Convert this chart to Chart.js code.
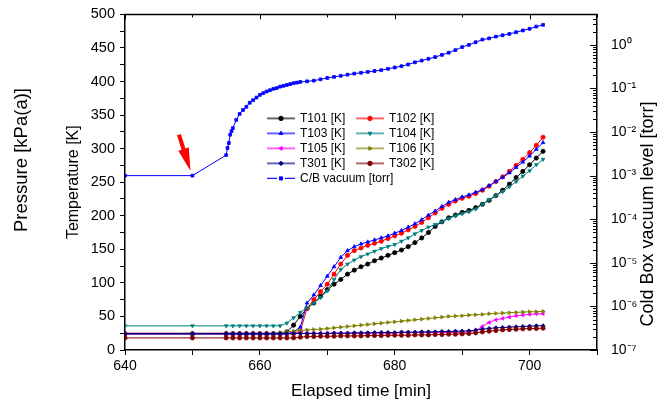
<!DOCTYPE html>
<html>
<head>
<meta charset="utf-8">
<script src="https://cdn.jsdelivr.net/npm/chart.js@4.4.0/dist/chart.umd.min.js"></script>
<style>
  html, body { margin: 0; padding: 0; background: #fff; }
</style>
</head>
<body>
<canvas id="myChart" width="664" height="405"></canvas>
<script>
// elapsed time [min] of the temperature channels
const timeT = [640, 650, 655, 656, 657, 658, 659, 660, 661, 662, 663, 664, 665, 666, 667, 668, 669, 670,
  671, 672, 673, 674, 675, 676, 677, 678, 679, 680, 681, 682, 683, 684, 685, 686, 687, 688, 689, 690,
  691, 692, 693, 694, 695, 696, 697, 698, 699, 700, 701, 702];

// temperatures [K]
const t101 = [24, 24, 24, 24, 24, 24, 24, 24, 24, 24, 24.5, 27, 37, 50, 62, 70, 80, 90, 98, 105, 113, 119,
  124, 128, 133, 137, 141, 145, 149, 154, 160, 167, 175, 184, 191, 197, 201, 205, 208, 212, 217, 223, 230,
  238, 247, 257, 266, 276, 286, 296];
const t102 = [24, 24, 24, 24, 24, 24, 24, 24, 24, 24, 24, 24, 24, 28, 62, 75, 87, 98, 113, 128, 141, 148,
  152, 156, 159, 162, 166, 170, 174, 179, 184, 190, 197, 204, 211, 217, 222, 226, 229, 233, 238, 244, 251,
  258, 266, 275, 284, 294, 305, 317];
const t103 = [24, 24, 24, 24, 24, 24, 24, 24, 24, 24, 24, 24, 27, 34, 70, 82, 96, 110, 124, 138, 148, 154,
  158, 161, 164, 167, 170, 174, 178, 183, 188, 194, 201, 207, 214, 220, 224, 228, 231, 235, 239, 245, 251,
  257, 264, 272, 280, 289, 299, 309];
const t104 = [36, 36, 36, 36, 36, 36, 36, 36, 36, 36, 36, 40, 48, 56, 63, 70, 78, 88, 105, 120, 128, 134,
  139, 143, 147, 151, 154, 157, 162, 167, 173, 178, 183, 187, 191, 196, 200, 203, 206, 210, 217, 224, 230,
  236, 243, 251, 259, 267, 276, 284];
const t105 = [25, 25, 25, 25, 25, 25, 25, 25, 25, 25, 25, 25, 25, 25, 25, 25, 25, 25, 25, 25, 25, 25, 25,
  25, 25, 25, 25, 25, 26, 26, 26, 26, 26, 26, 26, 26, 26, 26, 27, 29, 35, 41, 45, 47, 49, 51, 52, 53, 54, 54];
const t106 = [25, 25, 25, 25, 25, 25, 25, 25, 25, 25, 26, 27, 28, 29, 30, 30.5, 31, 32, 33, 34, 35, 36, 37,
  38, 39, 40, 41, 42, 43, 44, 45, 46, 47, 48, 49, 50, 50.5, 51, 52, 52.5, 53, 54, 54.5, 55, 55.5, 56, 56.5,
  57, 57, 57.5];
const t301 = [24.5, 24.5, 24.5, 24.5, 24.5, 24.5, 24.5, 24.5, 24.5, 24.5, 24.5, 24.5, 24.5, 24.5, 24.5,
  24.5, 24.5, 24.5, 25, 25, 25, 25.5, 25.5, 25.5, 26, 26, 26, 26, 26.5, 26.5, 26.5, 27, 27, 27, 27.5, 27.5,
  28, 28, 28.5, 29.5, 31, 32, 33, 33.5, 34, 34.5, 35, 35.5, 36, 36];
const t302 = [18, 18, 18, 18, 18, 18, 18, 18, 18, 18, 18, 18, 18, 19, 20, 20, 20.5, 20.5, 20.5, 21, 21, 21,
  21, 21.5, 21.5, 21.5, 22, 22, 22, 22, 22.5, 22.5, 22.5, 23, 23, 23.5, 23.5, 24, 24.5, 25.5, 27, 28, 29,
  30, 30.5, 31, 31.5, 32, 32, 32.5];

// cold box vacuum [torr]
const timeV = [640, 650, 655, 655.2, 655.4, 655.6, 655.8, 656, 656.5, 657, 657.5, 658, 658.5, 659, 659.5,
  660, 660.5, 661, 661.5, 662, 662.5, 663, 663.5, 664, 664.5, 665, 665.5, 666, 667, 668, 669, 670, 671,
  672, 673, 674, 675, 676, 677, 678, 679, 680, 681, 682, 683, 684, 685, 686, 687, 688, 689, 690, 691, 692,
  693, 694, 695, 696, 697, 698, 699, 700, 701, 702];
const vacuum = [1.0e-3, 1.0e-3, 2.95e-3, 4.3e-3, 5.6e-3, 8.7e-3, 0.0105, 0.0123, 0.019, 0.026, 0.032,
  0.038, 0.047, 0.054, 0.062, 0.071, 0.078, 0.085, 0.091, 0.098, 0.102, 0.110, 0.115, 0.120, 0.126, 0.132,
  0.136, 0.141, 0.146, 0.151, 0.162, 0.174, 0.184, 0.195, 0.207, 0.219, 0.229, 0.240, 0.251, 0.263, 0.282,
  0.302, 0.324, 0.355, 0.398, 0.437, 0.479, 0.525, 0.589, 0.661, 0.759, 0.891, 1.0, 1.15, 1.32, 1.41, 1.55,
  1.66, 1.78, 1.95, 2.14, 2.34, 2.63, 2.88];

// tick labels
const timeTickLabels = [640, 660, 680, 700];
const tempTickLabels = [0, 50, 100, 150, 200, 250, 300, 350, 400, 450, 500];
const vacDecades = [-7, -6, -5, -4, -3, -2, -1, 0];

// point the arrow marks
const arrowAt = [650, 1.0e-3];

const FONT = "'Liberation Sans', Arial, Helvetica, sans-serif";
Chart.defaults.font.family = FONT;
Chart.defaults.color = '#000';

const pair = (xs, ys) => xs.map((x, i) => ({ x: x, y: ys[i] }));

const tempSeries = [
  { label: 'T101 [K]', values: t101, color: '#000000', style: 'circle', rot: 0 },
  { label: 'T102 [K]', values: t102, color: '#ff0000', style: 'circle', rot: 0 },
  { label: 'T103 [K]', values: t103, color: '#0000ff', style: 'triangle', rot: 0 },
  { label: 'T104 [K]', values: t104, color: '#008080', style: 'triangle', rot: 180 },
  { label: 'T105 [K]', values: t105, color: '#ff00ff', style: 'triangle', rot: 270 },
  { label: 'T106 [K]', values: t106, color: '#808000', style: 'triangle', rot: 90 },
  { label: 'T301 [K]', values: t301, color: '#000080', style: 'rectRot', rot: 0 },
  { label: 'T302 [K]', values: t302, color: '#800000', style: 'circle', rot: 0 }
];

const datasets = tempSeries.map((s, i) => ({
  label: s.label,
  data: pair(timeT, s.values),
  yAxisID: 'y',
  borderColor: s.color,
  backgroundColor: s.color,
  pointBackgroundColor: s.color,
  pointBorderColor: s.color,
  borderWidth: 1,
  pointRadius: 2.1,
  pointBorderWidth: 0.8,
  pointStyle: s.style,
  pointRotation: s.rot,
  tension: 0,
  order: 20 - i
}));
datasets.push({
  label: 'C/B vacuum [torr]',
  data: pair(timeV, vacuum),
  yAxisID: 'yv',
  borderColor: '#0000ff',
  backgroundColor: '#0000ff',
  pointBackgroundColor: '#0000ff',
  pointBorderColor: '#0000ff',
  borderWidth: 1,
  pointRadius: 2,
  pointBorderWidth: 0.8,
  pointStyle: 'rect',
  pointRotation: 0,
  tension: 0,
  order: 1
});

const supDigits = { '-': '\u207b', '0': '\u2070', '1': '\u00b9', '2': '\u00b2', '3': '\u00b3', '4': '\u2074',
  '5': '\u2075', '6': '\u2076', '7': '\u2077', '8': '\u2078', '9': '\u2079' };
function decadeLabel(v) {
  const e = Math.log10(v);
  const n = Math.round(e);
  if (Math.abs(e - n) > 1e-6 || !vacDecades.includes(n)) return '';
  return '10' + String(n).split('').map(c => supDigits[c]).join('');
}

// frame top line, inward ticks on top and right, extra axis titles, arrow and the legend
const decorPlugin = {
  id: 'decor',
  afterDraw(chart) {
    const ctx = chart.ctx;
    const a = chart.chartArea;
    const xs = chart.scales.x;
    const yv = chart.scales.yv;
    ctx.save();
    ctx.strokeStyle = '#000';
    ctx.lineWidth = 1.5;
    ctx.beginPath();
    ctx.moveTo(a.left - 0.75, a.top);
    ctx.lineTo(a.right + 0.75, a.top);
    ctx.stroke();

    ctx.lineWidth = 1;
    for (let v = 640; v <= 710; v += 10) {
      const px = Math.round(xs.getPixelForValue(v)) + 0.5;
      ctx.beginPath();
      ctx.moveTo(px, a.top);
      ctx.lineTo(px, a.top + (v % 20 === 0 ? 5 : 3));
      ctx.stroke();
    }
    vacDecades.forEach(n => {
      for (let m = 1; m <= 9; m++) {
        const v = m * Math.pow(10, n);
        if (v > yv.max) break;
        const py = Math.round(yv.getPixelForValue(v)) + 0.5;
        ctx.beginPath();
        ctx.moveTo(a.right, py);
        ctx.lineTo(a.right - (m === 1 ? 7 : 4), py);
        ctx.stroke();
      }
    });

    ctx.fillStyle = '#000';
    ctx.textAlign = 'center';
    ctx.textBaseline = 'middle';
    ctx.font = '18.5px ' + FONT;
    ctx.save();
    ctx.translate(22, 160);
    ctx.rotate(-Math.PI / 2);
    ctx.fillText('Pressure [kPa(a)]', 0, 0);
    ctx.restore();
    ctx.font = '18px ' + FONT;
    ctx.save();
    ctx.translate(648, 214);
    ctx.rotate(-Math.PI / 2);
    ctx.fillText('Cold Box vacuum level [torr]', 0, 0);
    ctx.restore();

    // red arrow
    const ax = xs.getPixelForValue(arrowAt[0]);
    const ay = yv.getPixelForValue(arrowAt[1]);
    const tip = { x: ax - 2, y: ay - 5 };
    const tail = { x: ax - 13.5, y: ay - 41 };
    const dx = tip.x - tail.x, dy = tip.y - tail.y;
    const L = Math.hypot(dx, dy);
    const ux = dx / L, uy = dy / L, nx = -uy, ny = ux;
    const sx = tail.x + ux * L * 0.4, sy = tail.y + uy * L * 0.4;
    ctx.fillStyle = '#ff0000';
    ctx.beginPath();
    ctx.moveTo(tail.x + nx * 2, tail.y + ny * 2);
    ctx.lineTo(sx + nx * 2, sy + ny * 2);
    ctx.lineTo(sx + nx * 5.5, sy + ny * 5.5);
    ctx.lineTo(tip.x, tip.y);
    ctx.lineTo(sx - nx * 5.5, sy - ny * 5.5);
    ctx.lineTo(sx - nx * 2, sy - ny * 2);
    ctx.lineTo(tail.x - nx * 2, tail.y - ny * 2);
    ctx.closePath();
    ctx.fill();

    // legend
    const x0 = a.left + 142, y0 = a.top + 104, rowH = 15, colW = 89;
    ctx.textAlign = 'left';
    ctx.font = '12px ' + FONT;
    chart.data.datasets.forEach((ds, i) => {
      const col = i < 8 ? i % 2 : 0;
      const row = i < 8 ? Math.floor(i / 2) : 4;
      const lx = x0 + col * colW, ly = y0 + row * rowH;
      ctx.strokeStyle = ds.borderColor;
      ctx.lineWidth = 2;
      ctx.globalAlpha = 0.6;
      ctx.beginPath();
      if (i < 8) {
        ctx.moveTo(lx, ly); ctx.lineTo(lx + 28, ly);
      } else {
        ctx.globalAlpha = 0.9;
        ctx.lineWidth = 1.3;
        ctx.moveTo(lx, ly); ctx.lineTo(lx + 10, ly);
        ctx.moveTo(lx + 18, ly); ctx.lineTo(lx + 28, ly);
      }
      ctx.stroke();
      ctx.globalAlpha = 1;
      ctx.fillStyle = ds.pointBackgroundColor;
      ctx.strokeStyle = ds.pointBorderColor;
      ctx.lineWidth = 1;
      Chart.helpers.drawPoint(ctx, { pointStyle: ds.pointStyle, rotation: ds.pointRotation,
        radius: 2.2, borderWidth: 1 }, lx + 14, ly);
      ctx.fillStyle = '#000';
      ctx.fillText(ds.label, lx + 33, ly + 0.5);
    });
    ctx.restore();
  }
};

const config = {
  type: 'line',
  data: { datasets: datasets },
  options: {
    responsive: false,
    animation: false,
    layout: { padding: { top: 13, left: 0, right: 0, bottom: 0 } },
    plugins: { legend: { display: false }, tooltip: { enabled: false } },
    scales: {
      x: {
        type: 'linear',
        position: 'bottom',
        min: 640,
        max: 710,
        ticks: {
          stepSize: 10,
          autoSkip: false,
          maxRotation: 0,
          padding: 3,
          font: { size: 14 },
          callback: v => timeTickLabels.includes(v) ? String(v) : ''
        },
        grid: { drawOnChartArea: false, tickLength: 5, color: '#000', tickWidth: 1 },
        border: { color: '#000', width: 1.5 },
        title: { display: true, text: 'Elapsed time [min]', font: { size: 17 }, padding: { top: 0, bottom: 3 } },
        afterFit: s => { s.height = 55; }
      },
      y: {
        type: 'linear',
        position: 'left',
        min: 0,
        max: 500,
        ticks: {
          stepSize: 25,
          autoSkip: false,
          padding: 5,
          font: { size: 14.5 },
          callback: v => tempTickLabels.includes(v) ? String(v) : ''
        },
        grid: { drawOnChartArea: false, tickLength: 5, color: '#000', tickWidth: 1 },
        border: { color: '#000', width: 1.5 },
        title: { display: true, text: 'Temperature [K]', font: { size: 16 }, padding: { top: 64, bottom: 0 } },
        afterFit: s => { s.width = 125; }
      },
      yv: {
        type: 'logarithmic',
        position: 'right',
        min: 1e-7,
        max: 5,
        ticks: {
          autoSkip: false,
          padding: 6,
          font: { size: 14 },
          callback: v => decadeLabel(v)
        },
        grid: { display: false },
        border: { color: '#000', width: 1.5 },
        afterFit: s => { s.width = 67; }
      }
    }
  },
  plugins: [decorPlugin]
};

const ctx = document.getElementById('myChart').getContext('2d');
const myChart = new Chart(ctx, config);
</script>
</body>
</html>
